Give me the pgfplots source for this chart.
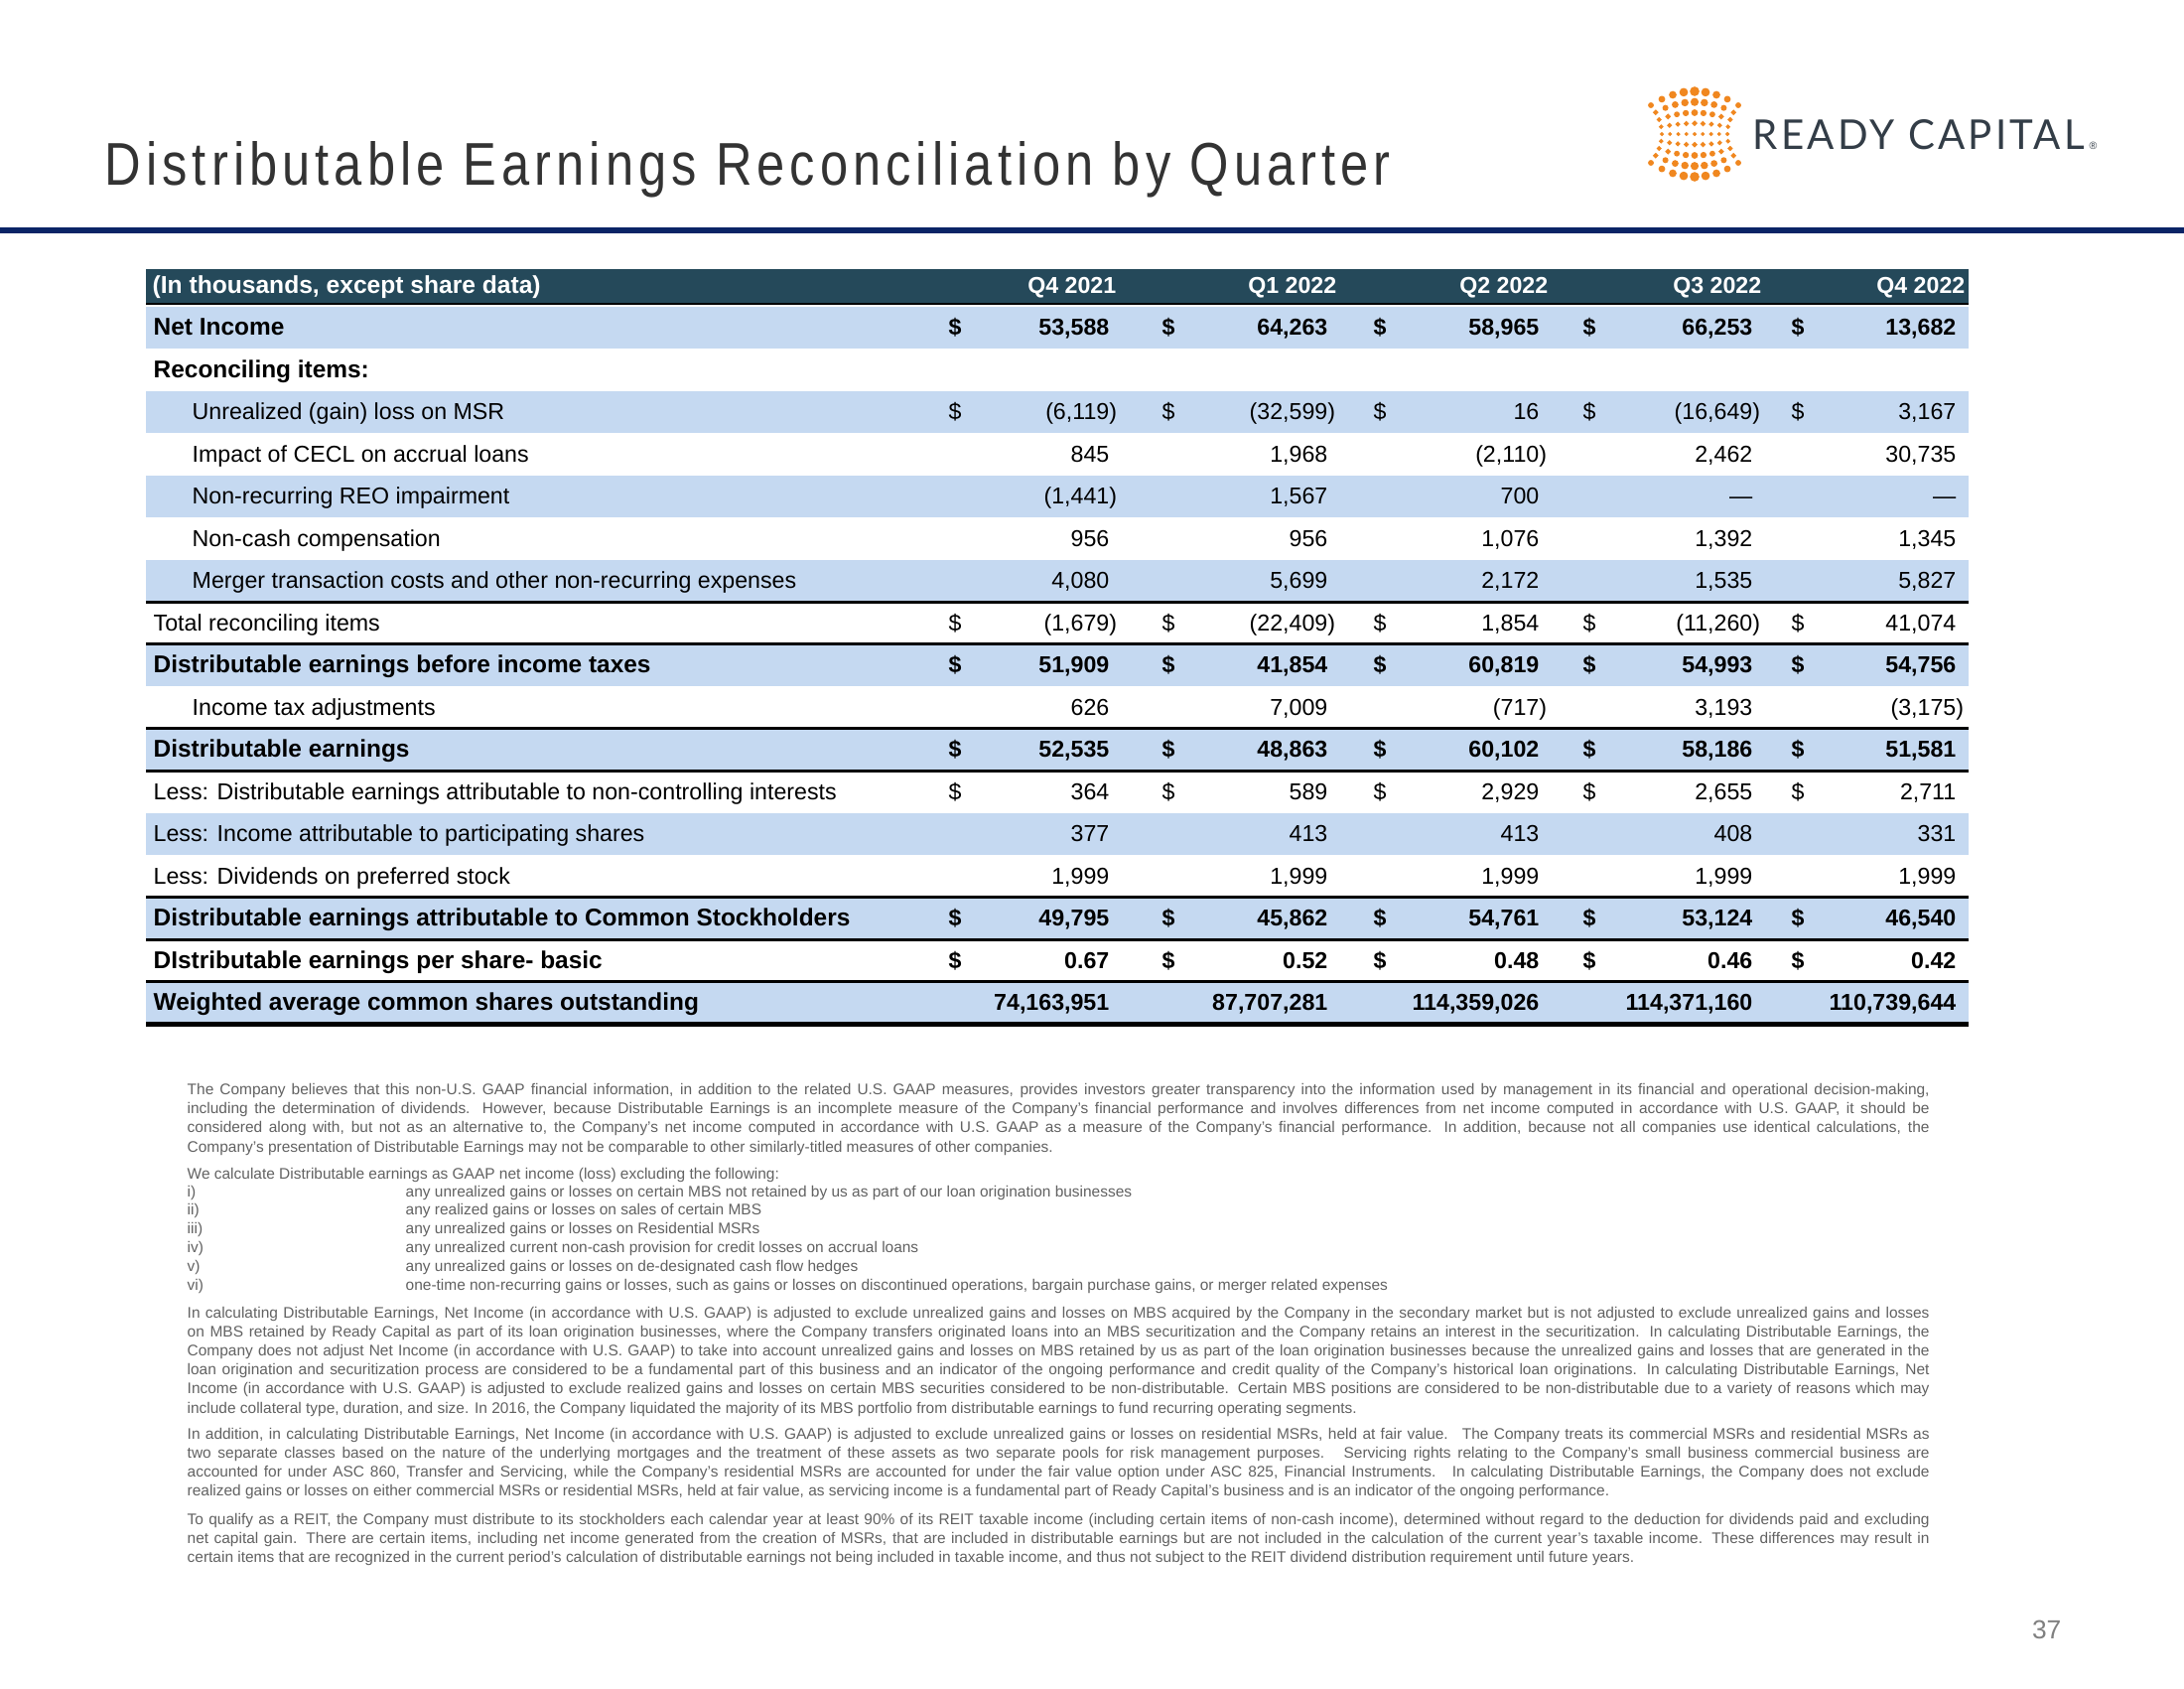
\documentclass[border=0pt]{standalone}
\usepackage{pgfplots}
\pgfplotsset{compat=1.18}
\usepackage{pgfplotstable}
\usepackage{graphicx}
\usepackage{fontspec}
\setmainfont{Liberation Sans}
\newfontfamily\logofont[LetterSpace=8]{Lato}
\newfontfamily\titlefont[LetterSpace=10]{Liberation Sans}

\definecolor{hdr}{HTML}{25495A}
\definecolor{band}{HTML}{C5D9F1}
\definecolor{navy}{HTML}{0A2466}
\definecolor{titlegray}{HTML}{333333}
\definecolor{fngray}{HTML}{626262}
\definecolor{logogray}{HTML}{333D47}
\definecolor{logoorange}{HTML}{F0871F}

\newcommand\tbl{\fontsize{6.6}{8}\selectfont}
\newcommand\tblb{\fontsize{6.6}{8}\selectfont\bfseries}
\newcommand\tbll{\fontsize{6.95}{8}\selectfont\bfseries}
\newcommand\fn{\fontsize{4.4}{5.2}\selectfont}
\newcommand\jl[1]{\makebox[175.5mm][s]{#1}}

% negative values hang their closing parenthesis past the column edge
\def\fmtval#1{\expandafter\fmtcheck#1\relax}
\def\fmtcheck#1#2\relax{\ifx(#1\expandafter\fmtneg\else\expandafter\fmtpos\fi#1#2\relax}
\def\fmtneg(#1)\relax{(#1\rlap{)}}
\def\fmtpos#1\relax{#1}

% table rows: row index, then Q4 2021, Q1 2022, Q2 2022, Q3 2022, Q4 2022
\pgfplotstableread{
row a b c d e
2 (6,119) (32,599) 16 (16,649) 3,167
3 845 1,968 (2,110) 2,462 30,735
4 (1,441) 1,567 700 — —
5 956 956 1,076 1,392 1,345
6 4,080 5,699 2,172 1,535 5,827
7 (1,679) (22,409) 1,854 (11,260) 41,074
9 626 7,009 (717) 3,193 (3,175)
11 364 589 2,929 2,655 2,711
12 377 413 413 408 331
13 1,999 1,999 1,999 1,999 1,999
}\regvals

\pgfplotstableread{
row a b c d e
0 53,588 64,263 58,965 66,253 13,682
8 51,909 41,854 60,819 54,993 54,756
10 52,535 48,863 60,102 58,186 51,581
14 49,795 45,862 54,761 53,124 46,540
15 0.67 0.52 0.48 0.46 0.42
16 74,163,951 87,707,281 114,359,026 114,371,160 110,739,644
}\boldvals

% logo dots: x y radius(pt)
\pgfplotstableread{
x y s
1663 106 .62
1674 99.9 .75
1685 95.5 .88
1696 92.9 1.02
1707 92 1.15
1718 92.9 1.02
1729 95.5 .88
1740 99.9 .75
1751 106 .62
1667.8 113.2 .55
1677.6 108.7 .65
1687.4 105.4 .75
1697.2 103.4 .85
1707 102.7 .95
1716.8 103.4 .85
1726.6 105.4 .75
1736.4 108.7 .65
1746.2 113.2 .55
1671.2 120.5 .48
1680.2 117.4 .55
1689.1 115.2 .62
1698.1 113.9 .68
1707 113.5 .75
1715.9 113.9 .68
1724.9 115.2 .62
1733.8 117.4 .55
1742.8 120.5 .48
1673.3 127.7 .42
1681.7 126.2 .45
1690.1 125.1 .48
1698.6 124.5 .52
1707 124.2 .55
1715.4 124.5 .52
1723.9 125.1 .48
1732.3 126.2 .45
1740.7 127.7 .42
1674 135 .35
1682.2 135 .35
1690.5 135 .35
1698.7 135 .35
1707 135 .35
1715.2 135 .35
1723.5 135 .35
1731.7 135 .35
1740 135 .35
1673.3 142.2 .42
1681.7 143.8 .45
1690.1 144.9 .48
1698.6 145.5 .52
1707 145.7 .55
1715.4 145.5 .52
1723.9 144.9 .48
1732.3 143.8 .45
1740.7 142.2 .42
1671.2 149.5 .48
1680.2 152.6 .55
1689.1 154.7 .62
1698.1 156.1 .68
1707 156.5 .75
1715.9 156.1 .68
1724.9 154.7 .62
1733.8 152.6 .55
1742.8 149.5 .48
1667.8 156.7 .55
1677.6 161.3 .65
1687.4 164.6 .75
1697.2 166.6 .85
1707 167.2 .95
1716.8 166.6 .85
1726.6 164.6 .75
1736.4 161.3 .65
1746.2 156.7 .55
1663 164 .62
1674 170.1 .75
1685 174.5 .88
1696 177.1 1.02
1707 178 1.15
1718 177.1 1.02
1729 174.5 .88
1740 170.1 .75
1751 164 .62
}\logodots

\pgfplotsset{
  vals/.style={draw=none,mark=none,point meta=explicit symbolic,
    nodes near coords={\fmtval\pgfplotspointmeta},
    every node near coord/.append style={anchor=base east,inner sep=0pt,font=#1,text=black}},
}
\tikzset{
  lab/.style={anchor=base west,inner sep=0pt,text=black,font=\tbl},
  labb/.style={anchor=base west,inner sep=0pt,text=black,font=\tbll},
  fnl/.style={anchor=base west,inner sep=0pt,text=fngray,font=\fn},
  dol/.style={anchor=base,inner sep=0pt,text=black,font=\tbl},
  dolb/.style={anchor=base,inner sep=0pt,text=black,font=\tblb},
}

\begin{document}
\begin{tikzpicture}
\begin{axis}[width=220mm,height=170mm,scale only axis,
  xmin=0,xmax=2200,ymin=0,ymax=1700,y dir=reverse,
  hide axis,clip=false]

\fill[white] (rel axis cs:0,0) rectangle (rel axis cs:1,1);

% title, rule and logo
\node[anchor=base west,inner sep=0pt,text=titlegray]
  at (axis cs:105,186) {\resizebox{129.5mm}{4.4mm}{\titlefont\fontsize{17.3}{20}\selectfont Distributable Earnings Reconciliation by Quarter}};
\fill[navy] (axis cs:0,229) rectangle (axis cs:2200,235);
\addplot[scatter,only marks,mark=*,point meta=explicit,
  scatter/use mapped color={draw=logoorange,fill=logoorange},
  visualization depends on={\thisrow{s}\as\msz},
  scatter/@pre marker code/.append style={/tikz/mark size=\msz}]
  table[x=x,y=y,meta=s]{\logodots};
\node[anchor=base west,inner sep=0pt,text=logogray] at (axis cs:1765,150)
  {\resizebox{33.4mm}{3.0mm}{\logofont READY CAPITAL}};
\node[anchor=base west,inner sep=0pt,text=logogray,font=\fontsize{3}{3}\selectfont]
  at (axis cs:2104,150) {®};

% table background
\fill[hdr] (axis cs:147,271) rectangle (axis cs:1983,305);
\pgfplotsinvokeforeach{0,2,4,6,8,10,12,14,16}{
  \fill[band] (axis cs:147,{308.75+42.5*#1}) rectangle (axis cs:1983,{351.25+42.5*#1});
}
\pgfplotsinvokeforeach{306,606.25,648.75,733.75,776.25,903.75,946.25,988.75}{
  \draw[line width=0.85pt] (axis cs:147,#1) -- (axis cs:1983,#1);
}
\draw[line width=1.4pt] (axis cs:147,1031.5) -- (axis cs:1983,1031.5);

% header
\node[anchor=base west,inner sep=0pt,text=white,font=\fontsize{7}{8}\selectfont\bfseries] at (axis cs:153,295) {(In thousands, except share data)};
\node[anchor=base east,inner sep=0pt,text=white,font=\tblb] at (axis cs:1125,295) {Q4 2021};
\node[anchor=base east,inner sep=0pt,text=white,font=\tblb] at (axis cs:1347,295) {Q1 2022};
\node[anchor=base east,inner sep=0pt,text=white,font=\tblb] at (axis cs:1560,295) {Q2 2022};
\node[anchor=base east,inner sep=0pt,text=white,font=\tblb] at (axis cs:1775,295) {Q3 2022};
\node[anchor=base east,inner sep=0pt,text=white,font=\tblb] at (axis cs:1980,295) {Q4 2022};

% row labels
\node[labb] at (axis cs:154,337.5) {Net Income};
\node[labb] at (axis cs:154,380) {Reconciling items:};
\node[lab] at (axis cs:193,422.5) {Unrealized (gain) loss on MSR};
\node[lab] at (axis cs:193,465) {Impact of CECL on accrual loans};
\node[lab] at (axis cs:193,507.5) {Non-recurring REO impairment};
\node[lab] at (axis cs:193,550) {Non-cash compensation};
\node[lab] at (axis cs:193,592.5) {Merger transaction costs and other non-recurring expenses};
\node[lab] at (axis cs:154,635) {Total reconciling items};
\node[labb] at (axis cs:154,677.5) {Distributable earnings before income taxes};
\node[lab] at (axis cs:193,720) {Income tax adjustments};
\node[labb] at (axis cs:154,762.5) {Distributable earnings};
\node[lab] at (axis cs:154,805) {Less: Distributable earnings attributable to non-controlling interests};
\node[lab] at (axis cs:154,847.5) {Less: Income attributable to participating shares};
\node[lab] at (axis cs:154,890) {Less: Dividends on preferred stock};
\node[labb] at (axis cs:154,932.5) {Distributable earnings attributable to Common Stockholders};
\node[labb] at (axis cs:154,975) {DIstributable earnings per share- basic};
\node[labb] at (axis cs:154,1017.5) {Weighted average common shares outstanding};

% dollar signs
\pgfplotsinvokeforeach{422.5,635,805}{
  \node[dol] at (axis cs:962,#1) {\$};
  \node[dol] at (axis cs:1177,#1) {\$};
  \node[dol] at (axis cs:1390,#1) {\$};
  \node[dol] at (axis cs:1601,#1) {\$};
  \node[dol] at (axis cs:1811,#1) {\$};
}
\pgfplotsinvokeforeach{337.5,677.5,762.5,932.5,975}{
  \node[dolb] at (axis cs:962,#1) {\$};
  \node[dolb] at (axis cs:1177,#1) {\$};
  \node[dolb] at (axis cs:1390,#1) {\$};
  \node[dolb] at (axis cs:1601,#1) {\$};
  \node[dolb] at (axis cs:1811,#1) {\$};
}

% values
\addplot[vals=\tbl] table[x expr=1118,y expr={337.5+42.5*\thisrow{row}},meta=a]{\regvals};
\addplot[vals=\tbl] table[x expr=1338,y expr={337.5+42.5*\thisrow{row}},meta=b]{\regvals};
\addplot[vals=\tbl] table[x expr=1551,y expr={337.5+42.5*\thisrow{row}},meta=c]{\regvals};
\addplot[vals=\tbl] table[x expr=1766,y expr={337.5+42.5*\thisrow{row}},meta=d]{\regvals};
\addplot[vals=\tbl] table[x expr=1971,y expr={337.5+42.5*\thisrow{row}},meta=e]{\regvals};
\addplot[vals=\tblb] table[x expr=1118,y expr={337.5+42.5*\thisrow{row}},meta=a]{\boldvals};
\addplot[vals=\tblb] table[x expr=1338,y expr={337.5+42.5*\thisrow{row}},meta=b]{\boldvals};
\addplot[vals=\tblb] table[x expr=1551,y expr={337.5+42.5*\thisrow{row}},meta=c]{\boldvals};
\addplot[vals=\tblb] table[x expr=1766,y expr={337.5+42.5*\thisrow{row}},meta=d]{\boldvals};
\addplot[vals=\tblb] table[x expr=1971,y expr={337.5+42.5*\thisrow{row}},meta=e]{\boldvals};

% footnotes
\node[fnl] at (axis cs:188,1102.5) {\jl{The Company believes that this non-U.S. GAAP financial information, in addition to the related U.S. GAAP measures, provides investors greater transparency into the information used by management in its financial and operational decision-making,}};
\node[fnl] at (axis cs:188,1121.7) {\jl{including the determination of dividends. However, because Distributable Earnings is an incomplete measure of the Company's financial performance and involves differences from net income computed in accordance with U.S. GAAP, it should be}};
\node[fnl] at (axis cs:188,1140.9) {\jl{considered along with, but not as an alternative to, the Company's net income computed in accordance with U.S. GAAP as a measure of the Company's financial performance. In addition, because not all companies use identical calculations, the}};
\node[fnl] at (axis cs:188,1160.1) {Company's presentation of Distributable Earnings may not be comparable to other similarly-titled measures of other companies.};
\node[fnl] at (axis cs:188,1187) {We calculate Distributable earnings as GAAP net income (loss) excluding the following:};
\node[fnl] at (axis cs:188,1205) {i)};
\node[fnl] at (axis cs:188,1223.8) {ii)};
\node[fnl] at (axis cs:188,1242.6) {iii)};
\node[fnl] at (axis cs:188,1261.4) {iv)};
\node[fnl] at (axis cs:188,1280.2) {v)};
\node[fnl] at (axis cs:188,1299) {vi)};
\node[fnl] at (axis cs:408,1205) {any unrealized gains or losses on certain MBS not retained by us as part of our loan origination businesses};
\node[fnl] at (axis cs:408,1223.8) {any realized gains or losses on sales of certain MBS};
\node[fnl] at (axis cs:408,1242.6) {any unrealized gains or losses on Residential MSRs};
\node[fnl] at (axis cs:408,1261.4) {any unrealized current non-cash provision for credit losses on accrual loans};
\node[fnl] at (axis cs:408,1280.2) {any unrealized gains or losses on de-designated cash flow hedges};
\node[fnl] at (axis cs:408,1299) {one-time non-recurring gains or losses, such as gains or losses on discontinued operations, bargain purchase gains, or merger related expenses};
\node[fnl] at (axis cs:188,1327) {\jl{In calculating Distributable Earnings, Net Income (in accordance with U.S. GAAP) is adjusted to exclude unrealized gains and losses on MBS acquired by the Company in the secondary market but is not adjusted to exclude unrealized gains and losses}};
\node[fnl] at (axis cs:188,1346.2) {\jl{on MBS retained by Ready Capital as part of its loan origination businesses, where the Company transfers originated loans into an MBS securitization and the Company retains an interest in the securitization. In calculating Distributable Earnings, the}};
\node[fnl] at (axis cs:188,1365.4) {\jl{Company does not adjust Net Income (in accordance with U.S. GAAP) to take into account unrealized gains and losses on MBS retained by us as part of the loan origination businesses because the unrealized gains and losses that are generated in the}};
\node[fnl] at (axis cs:188,1384.6) {\jl{loan origination and securitization process are considered to be a fundamental part of this business and an indicator of the ongoing performance and credit quality of the Company’s historical loan originations. In calculating Distributable Earnings, Net}};
\node[fnl] at (axis cs:188,1403.8) {\jl{Income (in accordance with U.S. GAAP) is adjusted to exclude realized gains and losses on certain MBS securities considered to be non-distributable. Certain MBS positions are considered to be non-distributable due to a variety of reasons which may}};
\node[fnl] at (axis cs:188,1423) {include collateral type, duration, and size. In 2016, the Company liquidated the majority of its MBS portfolio from distributable earnings to fund recurring operating segments.};
\node[fnl] at (axis cs:188,1449) {\jl{In addition, in calculating Distributable Earnings, Net Income (in accordance with U.S. GAAP) is adjusted to exclude unrealized gains or losses on residential MSRs, held at fair value. \ The Company treats its commercial MSRs and residential MSRs as}};
\node[fnl] at (axis cs:188,1468.2) {\jl{two separate classes based on the nature of the underlying mortgages and the treatment of these assets as two separate pools for risk management purposes. \ Servicing rights relating to the Company’s small business commercial business are}};
\node[fnl] at (axis cs:188,1487.4) {\jl{accounted for under ASC 860, Transfer and Servicing, while the Company’s residential MSRs are accounted for under the fair value option under ASC 825, Financial Instruments. \ In calculating Distributable Earnings, the Company does not exclude}};
\node[fnl] at (axis cs:188,1506.6) {realized gains or losses on either commercial MSRs or residential MSRs, held at fair value, as servicing income is a fundamental part of Ready Capital’s business and is an indicator of the ongoing performance.};
\node[fnl] at (axis cs:188,1535) {\jl{To qualify as a REIT, the Company must distribute to its stockholders each calendar year at least 90\% of its REIT taxable income (including certain items of non-cash income), determined without regard to the deduction for dividends paid and excluding}};
\node[fnl] at (axis cs:188,1554.2) {\jl{net capital gain. There are certain items, including net income generated from the creation of MSRs, that are included in distributable earnings but are not included in the calculation of the current year’s taxable income. These differences may result in}};
\node[fnl] at (axis cs:188,1573.4) {certain items that are recognized in the current period’s calculation of distributable earnings not being included in taxable income, and thus not subject to the REIT dividend distribution requirement until future years.};

% page number
\node[anchor=base east,inner sep=0pt,text=gray,font=\fontsize{7.5}{9}\selectfont] at (axis cs:2077,1650) {37};
\end{axis}
\end{tikzpicture}
\end{document}
